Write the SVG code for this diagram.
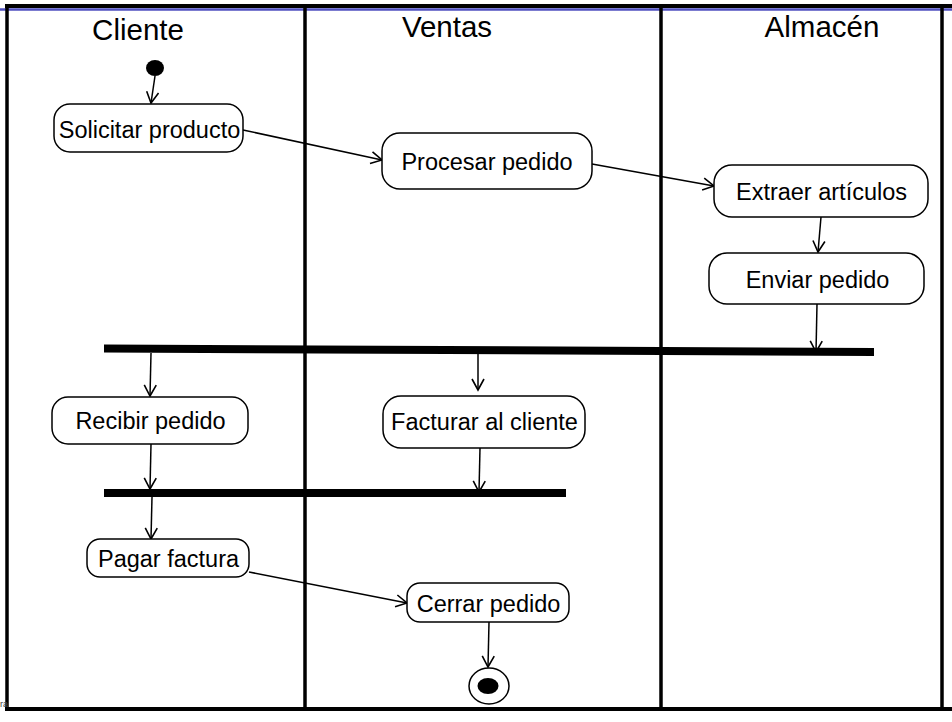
<svg xmlns="http://www.w3.org/2000/svg" width="952" height="722" viewBox="0 0 952 722">
<style>
.lane{stroke:#000;stroke-width:3.5;fill:none}
.title{font-family:"Liberation Sans",Arial,sans-serif;font-size:29.5px;fill:#000;text-anchor:middle}
.act rect{fill:#fff;stroke:#000;stroke-width:1.5}
.act text{font-family:"Liberation Sans",Arial,sans-serif;font-size:23.5px;fill:#000;text-anchor:middle}
.bar{stroke:#000;stroke-width:8;fill:none}
.edge{stroke:#000;stroke-width:1.5;fill:none;marker-end:url(#arr)}
</style>
<defs>
<marker id="arr" markerUnits="userSpaceOnUse" markerWidth="14" markerHeight="14" viewBox="0 0 14 14" refX="12" refY="7" orient="auto">
<path d="M1,1 L12,7 L1,13" fill="none" stroke="#000" stroke-width="1.6"/>
</marker>
</defs>
<rect width="952" height="722" fill="#fff"/>
<g id="swimlanes">
<line x1="0" y1="9.5" x2="952" y2="9.5" stroke="#5050c0" stroke-width="2.5"/>
<line x1="5" y1="6" x2="952" y2="6" stroke="#000" stroke-width="4"/>
<line class="lane" x1="7" y1="6" x2="7" y2="710"/>
<line class="lane" x1="305" y1="6" x2="305" y2="710"/>
<line class="lane" x1="661" y1="6" x2="661" y2="710"/>
<line class="lane" x1="942" y1="6" x2="942" y2="710"/>
<line x1="5" y1="709" x2="952" y2="709" stroke="#000" stroke-width="4"/>
<text class="title" x="138" y="40">Cliente</text>
<text class="title" x="447" y="37">Ventas</text>
<text class="title" x="822" y="37">Almacén</text>
<text x="0" y="707" font-family="Liberation Sans,Arial,sans-serif" font-size="9" fill="#444">ra</text>
</g>
<g id="bars">
<line id="fork" class="bar" x1="104" y1="348.5" x2="874" y2="352"/>
<line id="join" class="bar" x1="104" y1="493" x2="566" y2="493"/>
</g>
<g id="connectors">
<path class="edge" d="M155,76 L151,103"/>
<path class="edge" d="M243,130 L382,160"/>
<path class="edge" d="M592,164 L714,186"/>
<path class="edge" d="M821,217 L818,252"/>
<path class="edge" d="M817,304 L816,352"/>
<path class="edge" d="M151,353 L150,396"/>
<path class="edge" d="M478,353 L478,390"/>
<path class="edge" d="M151,444 L150,489"/>
<path class="edge" d="M480,448 L479,492"/>
<path class="edge" d="M152,497 L151,539"/>
<path class="edge" d="M249,572 L407,603"/>
<path class="edge" d="M489,622 L488,667"/>
</g>
<g id="start"><ellipse cx="155" cy="68" rx="9" ry="8" fill="#000"/></g>
<g id="solicitar" class="act"><rect x="54" y="104" width="189" height="48" rx="16"/><text x="149.5" y="138">Solicitar producto</text></g>
<g id="procesar" class="act"><rect x="382" y="133" width="210" height="56" rx="18"/><text x="487" y="170">Procesar pedido</text></g>
<g id="extraer" class="act"><rect x="714" y="165" width="214" height="52" rx="18"/><text x="821.5" y="200">Extraer artículos</text></g>
<g id="enviar" class="act"><rect x="709" y="253" width="215" height="51" rx="18"/><text x="817.5" y="288">Enviar pedido</text></g>
<g id="recibir" class="act"><rect x="52" y="397" width="196" height="47" rx="16"/><text x="150.5" y="429">Recibir pedido</text></g>
<g id="facturar" class="act"><rect x="383" y="396" width="202" height="52" rx="18"/><text x="484.5" y="430">Facturar al cliente</text></g>
<g id="pagar" class="act"><rect x="87" y="539" width="162" height="38" rx="13"/><text x="168.5" y="567">Pagar factura</text></g>
<g id="cerrar" class="act"><rect x="407" y="583" width="162" height="39" rx="13"/><text x="488.5" y="612">Cerrar pedido</text></g>
<g id="end"><ellipse cx="489" cy="686" rx="20" ry="18" fill="#fff" stroke="#000" stroke-width="1.5"/><ellipse cx="488" cy="686" rx="10.5" ry="8" fill="#000"/></g>
</svg>
